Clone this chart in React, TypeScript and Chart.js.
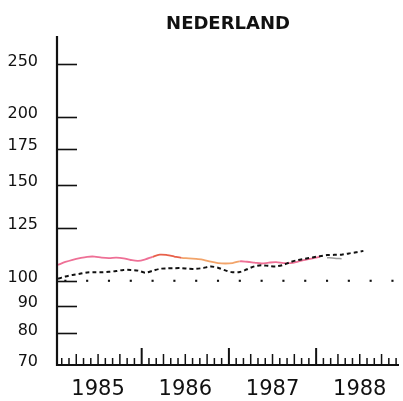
import React, { useEffect, useRef } from "react";
import { Chart, registerables } from "chart.js";

Chart.register(...registerables);

const chartTitle = "NEDERLAND";
const yearLabels = ["1985", "1986", "1987", "1988"];
const yearCenters = [6, 18, 30, 42];
const yTickValues = [70, 80, 90, 100, 125, 150, 175, 200, 250];

// monthly index values, starting January 1985 (plotted mid-month)
const pinkSeries = [
  107, 108.3, 109.3, 110.1, 110.7, 110.8, 110.3, 110.1, 110.3, 110, 109.2, 108.8,
  109.5, 110.7, 111.7, 111.5, 110.8, 110.2, 110, 109.7, 109.3, 108.4, 107.8, 107.6,
  107.8, 108.6, 108.4, 108, 107.6, 108, 108.2, 107.8, 107.8, 108.5, 109.3, 110,
  110.7,
];
const grayStart = 37;
const graySeries = [110.3, 110, 109.8];
const dashedSeries = [
  100.9, 101.8, 102.5, 103, 103.6, 103.7, 103.7, 103.9, 104.2, 104.7, 104.7, 104.4,
  103.5, 104.3, 105.2, 105.4, 105.5, 105.5, 105.2, 105.2, 105.6, 106.2, 105.7, 104.5,
  103.7, 103.8, 105, 106.3, 106.8, 106.5, 106.3, 107, 108.3, 109.2, 109.8, 110.4,
  111, 111.5, 111.6, 111.7, 112.3, 112.8, 113.5,
];
const refMonths = [1.5, 4.5, 7.5, 10.5, 13.5, 16.5, 19.5, 22.5, 25.5, 28.5, 31.5, 34.5, 37.5, 40.5, 43.5, 46.5];
const refValue = 100;

const X_MIN = 0.35;
const X_MAX = 47.4;

export default function App() {
  const ref = useRef<HTMLCanvasElement | null>(null);

  useEffect(() => {
    const canvas = ref.current;
    if (!canvas) return;

    const pinkColor = (i: number) => {
      if (i >= 13 && i <= 16) return "#e8604a";
      if (i >= 17 && i <= 24) return "#f2a46a";
      return "#ee7096";
    };

    const decor = {
      id: "decor",
      beforeDraw(chart: any) {
        const ctx = chart.ctx;
        ctx.save();
        ctx.fillStyle = "#ffffff";
        ctx.fillRect(0, 0, chart.width, chart.height);
        ctx.restore();
      },
      afterDraw(chart: any) {
        const { ctx, chartArea } = chart;
        const xs = chart.scales.x;
        const ys = chart.scales.y;
        ctx.save();
        ctx.strokeStyle = "#111";
        ctx.lineCap = "butt";
        // y ticks (inward)
        ctx.lineWidth = 1.6;
        for (const v of yTickValues) {
          if (v === 70) continue;
          const y = Math.round(ys.getPixelForValue(v)) + 0.5;
          ctx.beginPath();
          ctx.moveTo(chartArea.left, y);
          ctx.lineTo(chartArea.left + 20, y);
          ctx.stroke();
        }
        // x month ticks (inward)
        for (let m = 1; m < 48; m++) {
          const x = xs.getPixelForValue(m);
          if (x < chartArea.left + 2 || x > chartArea.right) continue;
          const h = m % 12 === 0 ? 17 : m % 3 === 0 ? 11 : 7;
          ctx.lineWidth = m % 12 === 0 ? 2 : 1.5;
          ctx.beginPath();
          ctx.moveTo(x, chartArea.bottom);
          ctx.lineTo(x, chartArea.bottom - h);
          ctx.stroke();
        }
        // axes
        ctx.lineWidth = 2.2;
        ctx.beginPath();
        ctx.moveTo(chartArea.left, chartArea.top);
        ctx.lineTo(chartArea.left, chartArea.bottom);
        ctx.lineTo(chartArea.right, chartArea.bottom);
        ctx.stroke();
        // title centred over the plot area
        ctx.fillStyle = "#111";
        ctx.font = "bold 18px 'DejaVu Sans'";
        ctx.textAlign = "center";
        ctx.textBaseline = "middle";
        ctx.fillText(chartTitle, (chartArea.left + chartArea.right) / 2, 24);
        ctx.restore();
      },
    };

    const chart = new Chart(canvas, {
      type: "line",
      data: {
        datasets: [
          {
            label: "dashed",
            data: dashedSeries.map((v, i) => ({ x: i + 0.5, y: v })),
            borderColor: "#111",
            borderWidth: 2,
            borderDash: [4, 3],
            pointRadius: 0,
            tension: 0.3,
          },
          {
            label: "pink",
            data: pinkSeries.map((v, i) => ({ x: i + 0.5, y: v })),
            borderColor: "#ee7096",
            borderWidth: 1.8,
            pointRadius: 0,
            tension: 0.35,
            segment: {
              borderColor: (c: any) => pinkColor(c.p0DataIndex),
            },
          },
          {
            label: "gray",
            data: graySeries.map((v, i) => ({ x: grayStart + i + 0.5, y: v })),
            borderColor: "#9a9a9a",
            borderWidth: 1.5,
            pointRadius: 0,
            tension: 0.3,
          },
          {
            label: "ref",
            data: refMonths.map((m) => ({ x: m, y: refValue })),
            showLine: false,
            pointStyle: "rect",
            pointRadius: 1.5,
            pointBackgroundColor: "#111",
            pointBorderColor: "#111",
            pointBorderWidth: 0,
          },
        ],
      },
      options: {
        responsive: false,
        animation: false,
        layout: { padding: { top: 36, right: 3, left: 0, bottom: 0 } },
        plugins: {
          legend: { display: false },
          title: { display: false },
          tooltip: { enabled: false },
        },
        scales: {
          x: {
            type: "linear",
            min: X_MIN,
            max: X_MAX,
            grid: { display: false, drawTicks: false, tickLength: 0 },
            border: { display: false },
            afterBuildTicks: (scale: any) => {
              scale.ticks = yearCenters.map((v) => ({ value: v }));
            },
            afterFit: (scale: any) => {
              scale.height = 36;
            },
            ticks: {
              autoSkip: false,
              maxRotation: 0,
              padding: 12,
              color: "#111",
              font: { family: "'DejaVu Sans'", size: 21 },
              callback: (v: any) => {
                const i = yearCenters.indexOf(Number(v));
                return i >= 0 ? yearLabels[i] : "";
              },
            },
          },
          y: {
            type: "logarithmic",
            min: 70,
            max: 282,
            grid: { display: false, drawTicks: false, tickLength: 0 },
            border: { display: false },
            afterBuildTicks: (scale: any) => {
              scale.ticks = yTickValues.map((v) => ({ value: v }));
            },
            afterFit: (scale: any) => {
              scale.width = 57;
            },
            ticks: {
              autoSkip: false,
              padding: 19,
              labelOffset: -3,
              color: "#111",
              font: { family: "'DejaVu Sans'", size: 16 },
              callback: (v: any) => String(v),
            },
          },
        },
      },
      plugins: [decor],
    } as any);

    return () => chart.destroy();
  }, []);

  return (
    <div style={{ position: "fixed", left: 0, top: 0, width: 403, height: 401, background: "#fff" }}>
      <canvas ref={ref} width={403} height={401} />
    </div>
  );
}
